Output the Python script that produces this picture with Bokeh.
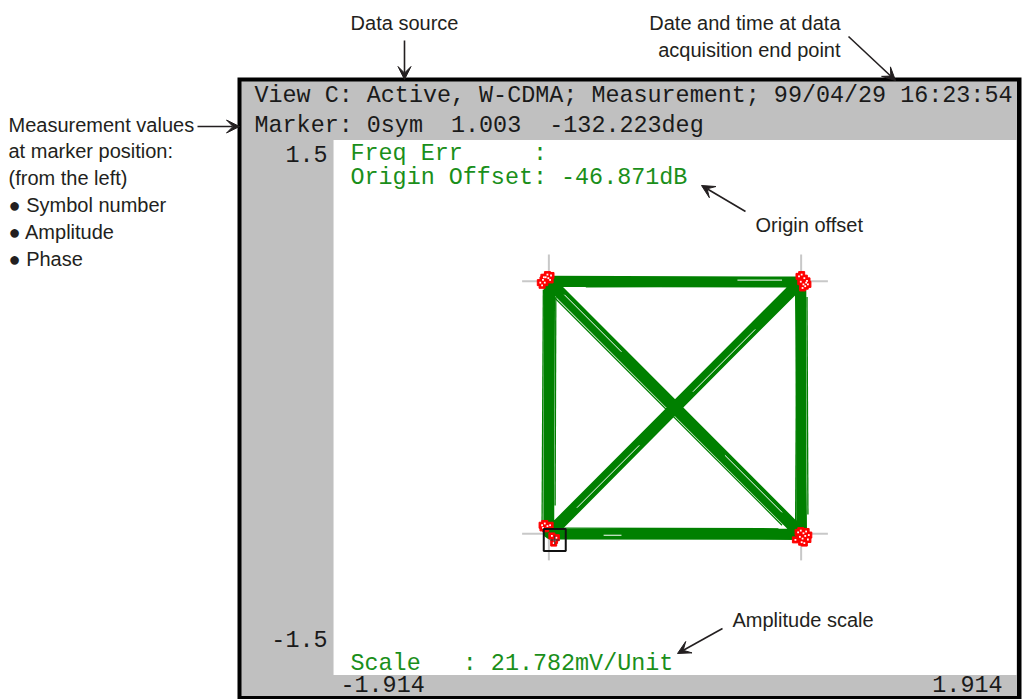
import numpy as np
from bokeh.plotting import figure
from bokeh.models import Range1d, Label, Arrow, VeeHead
from bokeh.embed import file_html
from bokeh.resources import INLINE

# ---------------- data ----------------
x_lim = 1.914          # horizontal full scale (units)
y_lim = 1.5            # vertical full scale (units)
x_tick_labels = ["-1.914", "1.914"]
y_tick_labels = ["1.5", "-1.5"]

# ideal QPSK constellation points (crosshairs)
ideal_i = [-0.707, 0.707, 0.707, -0.707]
ideal_q = [0.707, 0.707, -0.707, -0.707]

# vector trajectory through measured symbol points
traj_i = [-0.705, -0.703, 0.705, 0.708, -0.700, 0.703, -0.706, 0.706, -0.707, -0.700, 0.710,
          0.708, -0.703, 0.704, -0.708, -0.710, 0.700, 0.712, -0.702, 0.706, -0.706]
traj_q = [-0.710, 0.703, 0.705, -0.713, -0.712, 0.700, 0.706, -0.708, -0.706, 0.708, -0.710,
          0.702, -0.708, -0.715, 0.700, -0.705, 0.708, -0.706, 0.710, 0.706, -0.712]

# faint individual traces
thin_i = [[-0.745, -0.738], [-0.668, 0.690], [-0.694, 0.668], [-0.700, 0.600],
          [-0.684, 0.694], [-0.700, 0.672], [0.676, 0.682], [0.745, 0.740],
          [-0.500, 0.620], [-0.640, 0.580], [-0.672, -0.668]]
thin_q = [[-0.640, 0.660], [0.694, -0.666], [0.668, -0.692], [0.640, -0.660],
          [-0.704, 0.674], [-0.676, 0.696], [-0.680, 0.450], [-0.600, 0.620],
          [0.676, 0.680], [-0.676, -0.680], [-0.550, 0.620]]

# gaps inside the dense trace bundles
gap_i = [[-0.62, -0.30], [0.28, 0.60], [-0.55, -0.20], [0.10, 0.45], [0.35, 0.60], [-0.40, -0.30]]
gap_q = [[0.632, 0.312], [-0.268, -0.588], [-0.562, -0.212], [0.088, 0.438], [0.714, 0.714], [-0.716, -0.716]]

# measured symbol points
sym_i = [-0.755, -0.740, -0.725, -0.710, -0.695, -0.745, -0.730, -0.715, -0.700, -0.735,
         0.695, 0.710, 0.725, 0.740, 0.705, 0.720, 0.735, 0.715, 0.730, 0.745,
         0.690, 0.705, 0.720, 0.735, 0.750, 0.700, 0.715, 0.730, 0.745, 0.710, 0.725, 0.675,
         -0.745, -0.730, -0.715, -0.700, -0.740, -0.725, -0.690, -0.675, -0.665, -0.680]
sym_q = [0.700, 0.715, 0.730, 0.725, 0.740, 0.685, 0.700, 0.745, 0.715, 0.730,
         0.735, 0.745, 0.725, 0.710, 0.705, 0.690, 0.700, 0.670, 0.680, 0.690,
         -0.700, -0.690, -0.705, -0.695, -0.715, -0.725, -0.735, -0.720, -0.740, -0.755, -0.760, -0.742,
         -0.660, -0.650, -0.665, -0.660, -0.675, -0.680, -0.720, -0.745, -0.730, -0.760]

marker_symbol = 0
marker_amp = 1.003
marker_phase_deg = -132.223

NB = "\u00a0"
header_line1 = "View C: Active, W-CDMA; Measurement; 99/04/29 16:23:54"
header_line2 = "Marker: %dsym " % marker_symbol + NB + "%.3f " % marker_amp + NB + "%.3fdeg" % marker_phase_deg
freq_err_text = "Freq Err " + NB * 4 + ":"
origin_offset_text = "Origin Offset: -46.871dB"
scale_text = "Scale " + NB * 2 + ": 21.782mV/Unit"

note_left = ["Measurement values", "at marker position:", "(from the left)",
             "\u25cf Symbol number", "\u25cf Amplitude", "\u25cf Phase"]
note_source = "Data source"
note_date = ["Date and time at data", "acquisition end point"]
note_origin = "Origin offset"
note_scale = "Amplitude scale"

# ---------------- layout helpers (reference pixel -> data units) ----------------
CX, CY, S = 674.5, 407.0, 178.4
W, H = 1023, 699


def px(x):
    return (x - CX) / S


def py(y):
    return (CY - y) / S


p = figure(width=W, height=H, output_backend="svg", toolbar_location=None,
           x_range=Range1d(px(0), px(W)), y_range=Range1d(py(H), py(0)),
           x_axis_type=None, y_axis_type=None, min_border=0,
           min_border_left=0, min_border_right=0, min_border_top=0, min_border_bottom=0)
p.grid.visible = False
p.outline_line_color = None
p.background_fill_color = "white"
p.border_fill_color = "white"

# instrument frame
p.quad(left=px(237), right=px(1021), top=py(77), bottom=py(700), fill_color="black", line_color=None)
p.quad(left=px(241), right=px(1016.5), top=py(81), bottom=py(695.5), fill_color="#c0c0c0", line_color=None)
p.quad(left=-x_lim, right=x_lim, top=y_lim, bottom=-y_lim, fill_color="white", line_color=None)

# crosshairs at ideal points
arm = 0.15
ii = np.array(ideal_i)
qq = np.array(ideal_q)
p.segment(x0=ii - arm, x1=ii + arm, y0=qq, y1=qq, line_color="#c8c8c8", line_width=2)
p.segment(x0=ii, x1=ii, y0=qq - arm, y1=qq + arm, line_color="#c8c8c8", line_width=2)

GREEN = "#008000"
p.line(traj_i, traj_q, line_color=GREEN, line_width=10, line_join="round")
p.multi_line(thin_i, thin_q, line_color=GREEN, line_width=1.3)
p.multi_line(gap_i, gap_q, line_color="white", line_width=1)

p.scatter(sym_i, sym_q, marker="square", size=6, fill_color="#ff0000", line_color="#ff0000", line_width=1)
p.scatter(sym_i, sym_q, marker="square", size=1.8, fill_color="white", line_color=None)

mi = marker_amp * np.cos(np.deg2rad(marker_phase_deg))
mq = marker_amp * np.sin(np.deg2rad(marker_phase_deg))
p.scatter([mi], [mq], marker="square", size=22, fill_color=None, line_color="#111111", line_width=2)
p.scatter([mi], [mq], marker="cross", size=9, line_color="#333333", line_width=1)

MONO = "Liberation Mono"
SANS = "Liberation Sans"
DARK = "#1a1a1a"
TGREEN = "#1a8f1a"
MS = "23.4px"
SHIFT = {MONO: 7, SANS: 9}   # baseline correction (px)


def lab(x, y, text, font, size, color, align="left"):
    p.add_layout(Label(x=x, y=py(y - SHIFT[font]), text=text, text_font=font, text_font_size=size,
                       text_color=color, text_align=align, text_baseline="alphabetic"))


lab(px(254), 102, header_line1, MONO, MS, DARK)
lab(px(254), 132, header_line2, MONO, MS, DARK)
lab(px(327), 160, y_tick_labels[0], MONO, MS, DARK, "right")
lab(px(327), 645, y_tick_labels[1], MONO, MS, DARK, "right")
lab(px(340), 690, x_tick_labels[0], MONO, MS, DARK)
lab(px(1002), 690, x_tick_labels[1], MONO, MS, DARK, "right")
lab(px(350), 160, freq_err_text, MONO, MS, TGREEN)
lab(px(350), 184, origin_offset_text, MONO, MS, TGREEN)
lab(px(350), 670, scale_text, MONO, MS, TGREEN)

# annotation texts
NOTE = "#231f20"
for k, t in enumerate(note_left):
    lab(px(8), 133 + 26.8 * k, t, SANS, "20px", NOTE)
lab(px(404), 31, note_source, SANS, "20px", NOTE, "center")
lab(px(840), 31, note_date[0], SANS, "20px", NOTE, "right")
lab(px(840), 58, note_date[1], SANS, "20px", NOTE, "right")
lab(px(755), 233, note_origin, SANS, "20px", NOTE)
lab(px(732), 628, note_scale, SANS, "20px", NOTE)


def arrow(x0, y0, x1, y1):
    p.add_layout(Arrow(end=VeeHead(size=13, fill_color=NOTE, line_color=NOTE, line_width=1),
                       x_start=px(x0), y_start=py(y0), x_end=px(x1), y_end=py(y1),
                       line_color=NOTE, line_width=1.6))


arrow(404, 40, 404, 79)
arrow(848, 36, 895, 80)
arrow(197, 126, 239, 126)
arrow(745, 211, 701, 185)
arrow(722, 628, 677, 653)

open("out.html", "w").write(file_html(p, INLINE))
